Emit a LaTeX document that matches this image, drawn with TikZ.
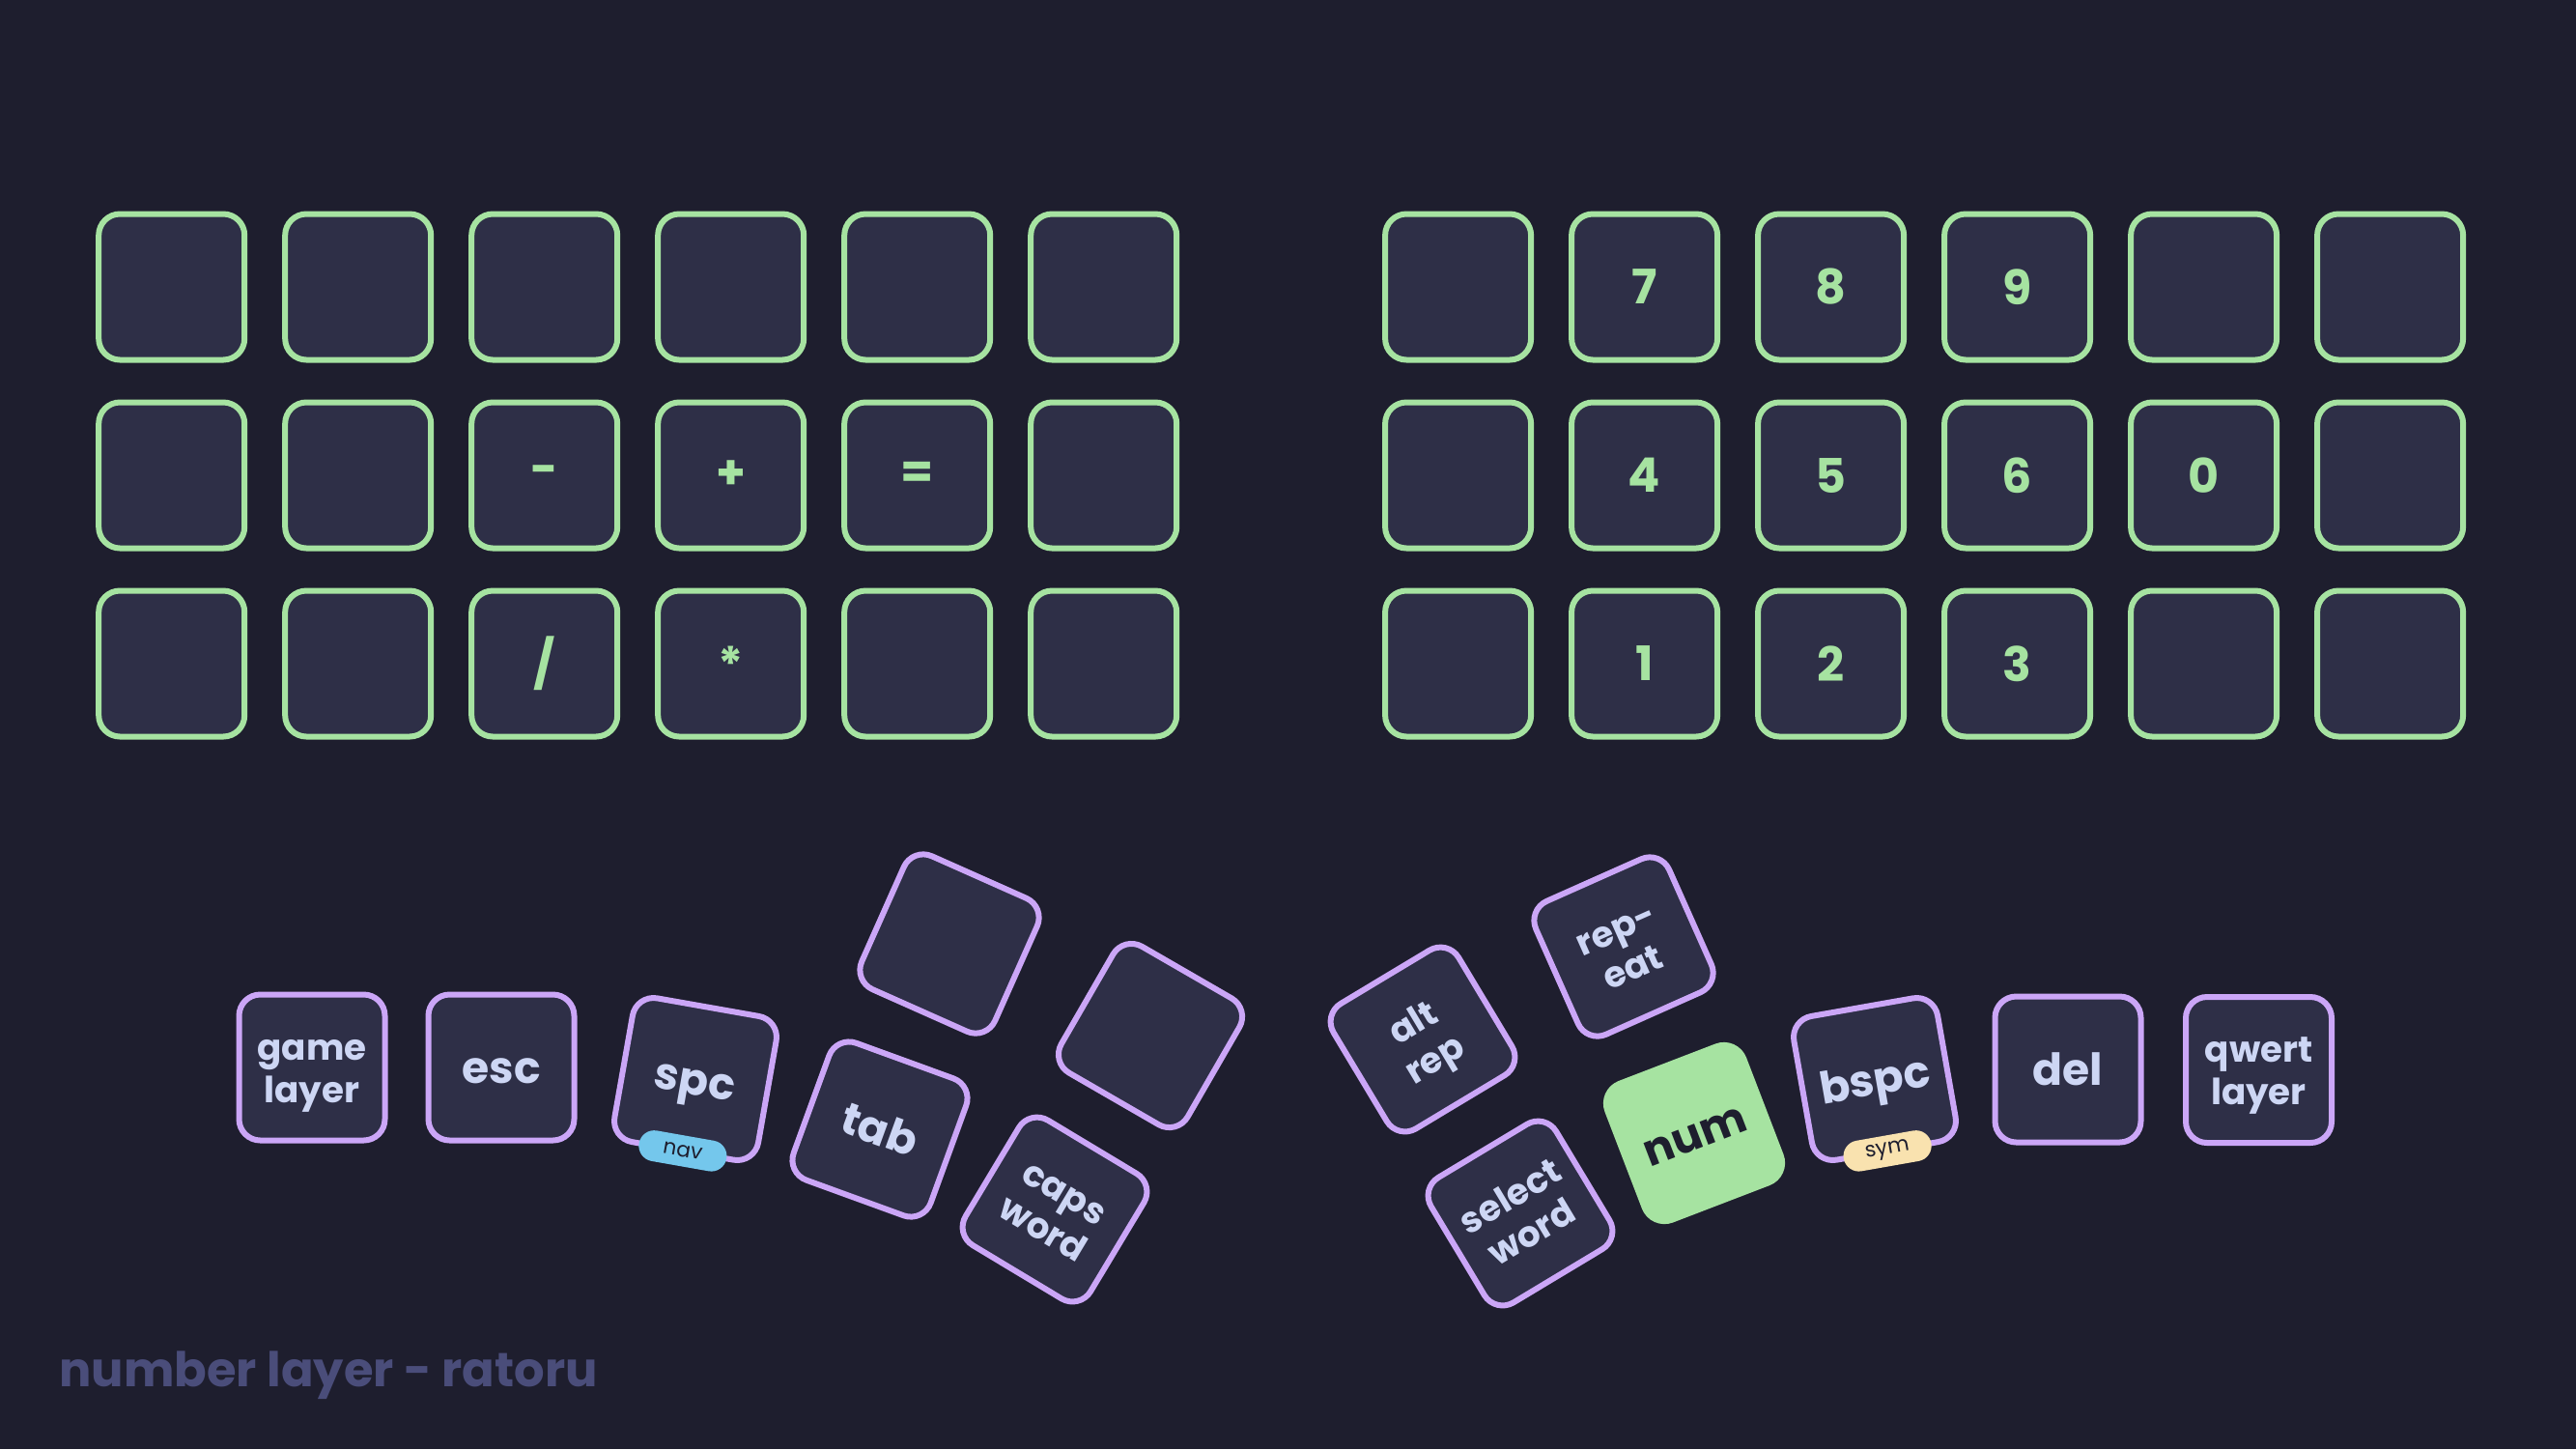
\documentclass[tikz,border=0pt]{standalone}
\usepackage{fontspec}
\setmainfont{Poppins}
\usepackage{xcolor}
\usepackage{tikz}
\usetikzlibrary{positioning}

\definecolor{bgdark}{HTML}{1E1E2E}
\definecolor{keyfill}{HTML}{2E2F47}
\definecolor{keygreen}{HTML}{A6E3A1}
\definecolor{keymauve}{HTML}{CBA6F7}
\definecolor{keytext}{HTML}{CDD6F4}
\definecolor{navblue}{HTML}{74C7EC}
\definecolor{symyellow}{HTML}{F9E2AF}
\definecolor{titletext}{HTML}{4A4D7A}

\tikzset{
  gridkey/.style={rectangle, draw=keygreen, fill=keyfill, line width=0.06cm, rounded corners=0.22cm, minimum size=1.51cm, inner sep=0pt, outer sep=0pt, text=keygreen, font=\fontsize{14}{14}\selectfont\bfseries},
  thumbkey/.style={gridkey, draw=keymauve, text=keytext, align=center, text height=0.33cm, text depth=0cm, font=\fontsize{13}{13}\selectfont\bfseries},
  twoline/.style={text height=0.72cm, text depth=0cm, font=\fontsize{10.6}{12.4}\selectfont\bfseries},
  holdpill/.style={rectangle, rounded corners=0.16cm, minimum width=0.92cm, minimum height=0.32cm, inner sep=0pt, text=bgdark, font=\fontsize{6.2}{6.2}\selectfont}
}

\begin{document}
\begin{tikzpicture}[node distance=0.44cm and 0.42cm]
  \useasboundingbox (0,0) rectangle (26.67,-15);
  \fill[bgdark] (0,0) rectangle (26.67,-15);

  \node (l11) [gridkey] at (1.777,-2.97) {};
  \node (l12) [gridkey, right=of l11] {};
  \node (l13) [gridkey, right=of l12] {};
  \node (l14) [gridkey, right=of l13] {};
  \node (l15) [gridkey, right=of l14] {};
  \node (l16) [gridkey, right=of l15] {};
  \node (l21) [gridkey, below=of l11] {};
  \node (l22) [gridkey, right=of l21] {};
  \node (l23) [gridkey, right=of l22] {-};
  \node (l24) [gridkey, right=of l23] {+};
  \node (l25) [gridkey, right=of l24] {=};
  \node (l26) [gridkey, right=of l25] {};
  \node (l31) [gridkey, below=of l21] {};
  \node (l32) [gridkey, right=of l31] {};
  \node (l33) [gridkey, right=of l32] {/};
  \node (l34) [gridkey, right=of l33] {*};
  \node (l35) [gridkey, right=of l34] {};
  \node (l36) [gridkey, right=of l35] {};

  \node (r11) [gridkey] at (15.096,-2.97) {};
  \node (r12) [gridkey, right=of r11] {7};
  \node (r13) [gridkey, right=of r12] {8};
  \node (r14) [gridkey, right=of r13] {9};
  \node (r15) [gridkey, right=of r14] {};
  \node (r16) [gridkey, right=of r15] {};
  \node (r21) [gridkey, below=of r11] {};
  \node (r22) [gridkey, right=of r21] {4};
  \node (r23) [gridkey, right=of r22] {5};
  \node (r24) [gridkey, right=of r23] {6};
  \node (r25) [gridkey, right=of r24] {0};
  \node (r26) [gridkey, right=of r25] {};
  \node (r31) [gridkey, below=of r21] {};
  \node (r32) [gridkey, right=of r31] {1};
  \node (r33) [gridkey, right=of r32] {2};
  \node (r34) [gridkey, right=of r33] {3};
  \node (r35) [gridkey, right=of r34] {};
  \node (r36) [gridkey, right=of r35] {};

  \node (game) [thumbkey, twoline] at (3.23,-11.05) {game\\layer};
  \node (esc) [thumbkey] at (5.19,-11.05) {esc};
  \node (spc) [thumbkey, rotate=-10] at (7.20,-11.17) {spc};
  \node (tab) [thumbkey, rotate=-20] at (9.11,-11.69) {tab};
  \node (ltop) [thumbkey, rotate=-24] at (9.83,-9.77) {};
  \node (lout) [thumbkey, rotate=-30] at (11.91,-10.72) {};
  \node (caps) [thumbkey, twoline, rotate=-31] at (10.92,-12.52) {caps\\word};
  \node (altrep) [thumbkey, twoline, rotate=31] at (14.73,-10.76) {alt\\rep};
  \node (repeat) [thumbkey, twoline, rotate=24] at (16.81,-9.80) {rep-\\eat};
  \node (select) [thumbkey, twoline, rotate=31] at (15.74,-12.56) {select\\word};
  \node (num) [thumbkey, fill=keygreen, draw=keygreen, text=bgdark, rotate=21] at (17.54,-11.73) {num};
  \node (bspc) [thumbkey, rotate=10] at (19.41,-11.17) {bspc};
  \node (del) [thumbkey] at (21.41,-11.07) {del};
  \node (qwert) [thumbkey, twoline] at (23.385,-11.075) {qwert\\layer};

  \node (nav) [holdpill, fill=navblue, rotate=-10] at (spc.south) {nav};
  \node (sym) [holdpill, fill=symyellow, rotate=10] at (bspc.south) {sym};

  \node (title) [anchor=base west, text=titletext, font=\fontsize{14.1}{15}\selectfont\bfseries] at (0.49,-14.35) {number layer - ratoru};
\end{tikzpicture}
\end{document}
